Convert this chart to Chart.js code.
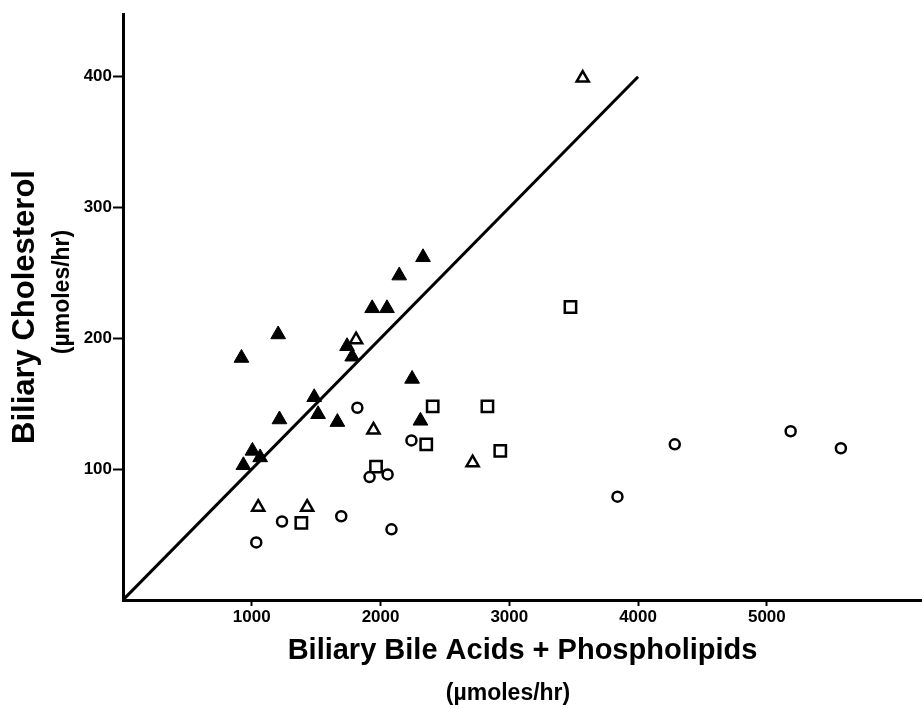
<!DOCTYPE html>
<html>
<head>
<meta charset="utf-8">
<script src="https://cdn.jsdelivr.net/npm/chart.js@4.4.1/dist/chart.umd.min.js"></script>
<style>
  html, body { margin: 0; padding: 0; background: #fff; }
  #wrap { width: 922px; height: 709px; }
</style>
</head>
<body>
<div id="wrap"><canvas id="bileChart" width="922" height="709"></canvas></div>
<script>
// filled triangles
const filledTriX = [920, 1205, 1935, 2050, 2145, 2330, 1740, 1780, 2245, 1485, 1215, 1515, 1665, 1005, 1065, 935, 2310];
const filledTriY = [185, 203, 223, 223, 248, 262, 194, 186, 169, 155, 138, 142, 136, 114, 109, 103, 137];
// open triangles
const openTriX = [1810, 1945, 1050, 1430, 2715, 3570];
const openTriY = [199, 130, 71, 71, 105, 399];
// open circles
const circleX = [1820, 2240, 1915, 2055, 1235, 1695, 1035, 2085, 3840, 4285, 5185, 5575];
const circleY = [147, 122, 94, 96, 60, 64, 44, 54, 79, 119, 129, 116];
// open squares
const squareX = [1965, 2355, 2405, 1385, 2830, 2930, 3475];
const squareY = [102, 119, 148, 59, 148, 114, 224];
// line of identity (cholesterol = 0.1 x)
const lineX = [0, 4000];
const lineY = [0, 400];

const xTicks = [1000, 2000, 3000, 4000, 5000];
const yTicks = [100, 200, 300, 400];

const toPoints = (xs, ys) => xs.map((x, i) => ({ x: x, y: ys[i] }));

const FONT = "'Liberation Sans', Arial, sans-serif";

// unit labels under the axis titles
const unitLabels = {
    id: 'unitLabels',
    afterDraw(chart) {
        const ctx = chart.ctx;
        ctx.save();
        ctx.fillStyle = '#000';
        ctx.font = 'bold 23px ' + FONT;
        ctx.textAlign = 'center';
        ctx.textBaseline = 'middle';
        ctx.fillText('(µmoles/hr)', 508, 694);
        ctx.translate(63, 292);
        ctx.rotate(-Math.PI / 2);
        ctx.fillText('(µmoles/hr)', 0, 0);
        ctx.restore();
    }
};

const ctx = document.getElementById('bileChart').getContext('2d');
new Chart(ctx, {
    type: 'scatter',
    data: {
        datasets: [
            {
                label: 'line',
                data: toPoints(lineX, lineY),
                showLine: true,
                borderColor: '#000',
                borderWidth: 3,
                pointRadius: 0
            },
            {
                label: 'filled triangles',
                data: toPoints(filledTriX, filledTriY),
                pointStyle: 'triangle',
                pointRadius: 8.5,
                backgroundColor: '#000',
                borderColor: '#000',
                borderWidth: 1
            },
            {
                label: 'open triangles',
                data: toPoints(openTriX, openTriY),
                pointStyle: 'triangle',
                pointRadius: 7,
                backgroundColor: '#fff',
                borderColor: '#000',
                borderWidth: 2.5
            },
            {
                label: 'circles',
                data: toPoints(circleX, circleY),
                pointStyle: 'circle',
                pointRadius: 5,
                backgroundColor: '#fff',
                borderColor: '#000',
                borderWidth: 2.5
            },
            {
                label: 'squares',
                data: toPoints(squareX, squareY),
                pointStyle: 'rect',
                pointRadius: 8,
                backgroundColor: '#fff',
                borderColor: '#000',
                borderWidth: 2.5
            }
        ]
    },
    options: {
        responsive: false,
        animation: false,
        layout: { autoPadding: false, padding: { top: 14, right: 0, left: 0, bottom: 0 } },
        plugins: {
            legend: { display: false },
            tooltip: { enabled: false }
        },
        scales: {
            x: {
                type: 'linear',
                min: 0,
                max: 6205,
                afterBuildTicks: s => { s.ticks = xTicks.map(v => ({ value: v })); },
                afterFit: s => { s.height = 109; s.paddingLeft = 0; s.paddingRight = 0; },
                border: { color: '#000', width: 3 },
                grid: { drawOnChartArea: false, drawTicks: true, tickLength: 6, tickWidth: 2, color: '#000' },
                ticks: {
                    color: '#000',
                    padding: 1,
                    font: { family: FONT, size: 17, weight: 'bold' },
                    callback: v => String(v)
                },
                title: {
                    display: true,
                    text: 'Biliary Bile Acids + Phospholipids',
                    color: '#000',
                    font: { family: FONT, size: 29, weight: 'bold' },
                    padding: { top: 0, bottom: 41 }
                }
            },
            y: {
                type: 'linear',
                min: 0,
                max: 448,
                afterBuildTicks: s => { s.ticks = yTicks.map(v => ({ value: v })); },
                afterFit: s => { s.width = 123; s.paddingTop = 0; s.paddingBottom = 0; },
                border: { color: '#000', width: 3 },
                grid: { drawOnChartArea: false, drawTicks: true, tickLength: 10, tickWidth: 2, color: '#000' },
                ticks: {
                    color: '#000',
                    padding: 1,
                    font: { family: FONT, size: 17, weight: 'bold' },
                    callback: v => String(v)
                },
                title: {
                    display: true,
                    text: 'Biliary Cholesterol',
                    color: '#000',
                    font: { family: FONT, size: 31, weight: 'bold' },
                    padding: { top: 7, bottom: 0 }
                }
            }
        }
    },
    plugins: [unitLabels]
});
</script>
</body>
</html>
